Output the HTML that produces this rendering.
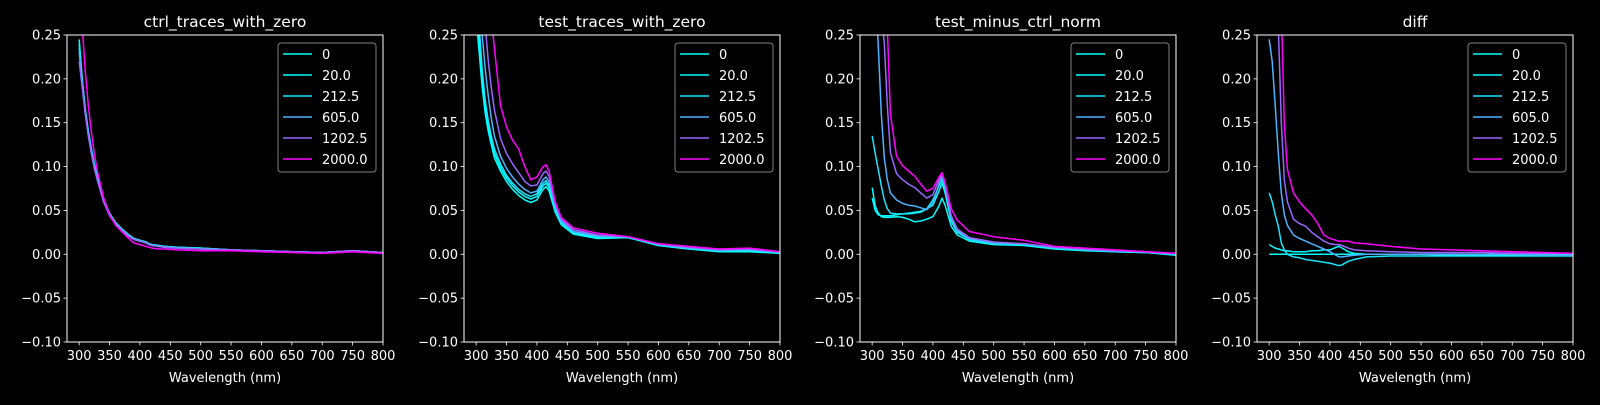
<!DOCTYPE html>
<html><head><meta charset="utf-8"><style>
html,body{margin:0;padding:0;background:#000;}
svg text{font-family:"DejaVu Sans","Liberation Sans",sans-serif;fill:#fff;}
</style></head><body>
<svg id="fig" width="1600" height="400" xmlns="http://www.w3.org/2000/svg"></svg>
<script>
const wavelengths=[300,305,310,315,320,325,330,340,350,360,370,380,390,400,410,415,420,430,440,460,500,550,600,650,700,750,800];
const seriesLabels=["0","20.0","212.5","605.0","1202.5","2000.0"];
const seriesColors=["#00ffff","#03fcff","#1be4ff","#4db2ff","#9966ff","#ff00ff"];
const panelTitles=["ctrl_traces_with_zero","test_traces_with_zero","test_minus_ctrl_norm","diff"];
const xTicks=[300,350,400,450,500,550,600,650,700,750,800];
const yTicks=[-0.10,-0.05,0.00,0.05,0.10,0.15,0.20,0.25];
const yTickLabels=["\u22120.10","\u22120.05","0.00","0.05","0.10","0.15","0.20","0.25"];
const ctrl0=[0.245,0.20,0.165,0.14,0.12,0.102,0.088,0.063,0.046,0.036,0.029,0.023,0.018,0.016,0.014,0.012,0.011,0.010,0.009,0.008,0.007,0.005,0.004,0.003,0.002,0.004,0.002];
const ctrl20=[0.24,0.20,0.166,0.141,0.121,0.103,0.089,0.064,0.047,0.036,0.029,0.023,0.018,0.016,0.014,0.012,0.011,0.010,0.009,0.008,0.007,0.005,0.004,0.003,0.002,0.004,0.002];
const ctrl212=[0.235,0.198,0.164,0.139,0.119,0.101,0.087,0.062,0.046,0.035,0.028,0.022,0.018,0.016,0.013,0.012,0.011,0.010,0.009,0.008,0.007,0.005,0.004,0.003,0.002,0.004,0.002];
const ctrl605=[0.23,0.195,0.162,0.137,0.117,0.1,0.086,0.061,0.045,0.035,0.028,0.022,0.017,0.015,0.013,0.011,0.010,0.009,0.008,0.007,0.006,0.005,0.004,0.003,0.002,0.004,0.002];
const ctrl1202=[0.22,0.19,0.16,0.135,0.115,0.098,0.084,0.06,0.044,0.034,0.027,0.021,0.017,0.015,0.013,0.011,0.01,0.009,0.008,0.007,0.006,0.005,0.004,0.003,0.002,0.004,0.002];
const ctrl2000=[0.30,0.26,0.21,0.17,0.14,0.115,0.095,0.065,0.045,0.033,0.026,0.019,0.013,0.011,0.009,0.008,0.007,0.006,0.006,0.005,0.004,0.004,0.003,0.002,0.001,0.003,0.001];
const test0=[0.27,0.23,0.19,0.16,0.14,0.125,0.11,0.095,0.083,0.074,0.067,0.062,0.059,0.062,0.074,0.077,0.072,0.048,0.034,0.023,0.018,0.019,0.010,0.006,0.003,0.003,0.001];
const test20=[0.29,0.245,0.20,0.168,0.146,0.13,0.115,0.099,0.087,0.078,0.071,0.066,0.063,0.066,0.078,0.081,0.076,0.05,0.035,0.024,0.019,0.019,0.010,0.006,0.004,0.004,0.002];
const test212=[0.31,0.26,0.21,0.175,0.152,0.135,0.12,0.103,0.09,0.081,0.074,0.069,0.066,0.069,0.081,0.084,0.079,0.052,0.036,0.025,0.02,0.02,0.011,0.007,0.004,0.005,0.002];
const test605=[0.36,0.30,0.25,0.21,0.18,0.155,0.135,0.112,0.098,0.088,0.08,0.074,0.07,0.072,0.085,0.088,0.083,0.055,0.038,0.026,0.021,0.02,0.011,0.007,0.005,0.005,0.002];
const test1202=[0.43,0.37,0.31,0.26,0.22,0.19,0.165,0.132,0.115,0.103,0.093,0.083,0.078,0.079,0.092,0.095,0.089,0.058,0.04,0.028,0.022,0.02,0.012,0.008,0.005,0.006,0.003];
const test2000=[0.5,0.44,0.37,0.31,0.29,0.27,0.235,0.17,0.145,0.13,0.12,0.1,0.085,0.088,0.1,0.102,0.095,0.06,0.042,0.03,0.024,0.02,0.012,0.009,0.006,0.007,0.003];
const norm0=[0.076,0.055,0.047,0.043,0.042,0.042,0.042,0.043,0.042,0.04,0.037,0.038,0.04,0.043,0.055,0.064,0.056,0.032,0.022,0.015,0.011,0.01,0.006,0.004,0.003,0.002,-0.001];
const norm20=[0.064,0.05,0.045,0.044,0.044,0.044,0.044,0.045,0.046,0.047,0.048,0.049,0.052,0.056,0.072,0.081,0.07,0.038,0.025,0.017,0.012,0.011,0.007,0.005,0.003,0.002,0.0];
const norm212=[0.135,0.115,0.097,0.078,0.062,0.052,0.047,0.046,0.046,0.046,0.047,0.048,0.052,0.062,0.078,0.085,0.075,0.04,0.026,0.017,0.012,0.011,0.007,0.005,0.003,0.002,0.0];
const norm605=[0.4,0.3,0.24,0.16,0.11,0.085,0.07,0.062,0.058,0.056,0.055,0.053,0.051,0.058,0.08,0.089,0.078,0.042,0.027,0.018,0.013,0.012,0.008,0.005,0.004,0.003,0.0];
const norm1202=[0.5,0.4,0.33,0.28,0.24,0.17,0.116,0.092,0.085,0.08,0.076,0.07,0.064,0.068,0.085,0.091,0.08,0.044,0.029,0.019,0.014,0.012,0.008,0.006,0.004,0.003,0.001];
const norm2000=[0.6,0.5,0.42,0.35,0.3,0.26,0.16,0.112,0.101,0.095,0.089,0.08,0.072,0.075,0.088,0.093,0.082,0.052,0.039,0.026,0.02,0.016,0.009,0.007,0.005,0.003,0.001];
const diff0=[0,0,0,0,0,0,0,0,0,0,0,0,0,0,0,0,0,0,0,0,0,0,0,0,0,0,0];
const diff20=[0.011,0.009,0.007,0.006,0.005,0.004,0.004,0.003,0.003,0.003,0.004,0.004,0.005,0.005,0.008,0.009,0.007,0.003,0.001,0.0,0.0,0.0,-0.001,-0.001,-0.001,-0.001,-0.001];
const diff212=[0.07,0.06,0.045,0.032,0.013,0.005,0.0,-0.003,-0.004,-0.006,-0.007,-0.008,-0.009,-0.01,-0.012,-0.013,-0.012,-0.008,-0.006,-0.003,-0.002,-0.002,-0.002,-0.002,-0.002,-0.002,-0.002];
const diff605=[0.245,0.22,0.17,0.115,0.07,0.045,0.033,0.022,0.018,0.015,0.012,0.009,0.006,0.003,-0.001,-0.003,-0.003,-0.002,-0.001,0.0,0.0,0.0,0.0,0.0,0.0,-0.001,-0.001];
const diff1202=[0.5,0.4,0.33,0.26,0.15,0.085,0.06,0.04,0.035,0.032,0.025,0.02,0.015,0.012,0.011,0.011,0.01,0.007,0.005,0.004,0.003,0.002,0.002,0.002,0.001,0.001,0.001];
const diff2000=[0.6,0.5,0.42,0.35,0.28,0.15,0.097,0.07,0.06,0.052,0.045,0.035,0.022,0.018,0.016,0.015,0.015,0.015,0.013,0.012,0.009,0.006,0.005,0.004,0.003,0.002,0.001];

const panels=[[ctrl0,ctrl20,ctrl212,ctrl605,ctrl1202,ctrl2000],[test0,test20,test212,test605,test1202,test2000],[norm0,norm20,norm212,norm605,norm1202,norm2000],[diff0,diff20,diff212,diff605,diff1202,diff2000]];

const NS="http://www.w3.org/2000/svg";
const svg=document.getElementById('fig');
function mk(tag,attrs,parent){const e=document.createElementNS(NS,tag);for(const k in attrs)e.setAttribute(k,attrs[k]);(parent||svg).appendChild(e);return e;}
const axLefts=[67,464,860,1257], axW=316, axTop=35, axH=307;
const xMin=280,xMax=800,yMin=-0.10,yMax=0.25;
panels.forEach((series,pi)=>{
  const L=axLefts[pi];
  const xs=v=>L+(v-xMin)/(xMax-xMin)*axW;
  const ys=v=>axTop+(yMax-v)/(yMax-yMin)*axH;
  const g=mk('g',{});
  
  
  const cp=mk('clipPath',{id:'clip'+pi},g);
  mk('rect',{x:L,y:axTop,width:axW,height:axH},cp);
  const lg=mk('g',{'clip-path':'url(#clip'+pi+')'},g);
  series.forEach((vals,si)=>{
    const d=vals.map((v,i)=>(i?'L':'M')+xs(wavelengths[i]).toFixed(1)+' '+ys(v).toFixed(1)).join(' ');
    const p=mk('path',{d:d,fill:'none',stroke:seriesColors[si],'stroke-width':1.5,'stroke-linejoin':'round'},lg);
    
    
  });
  const fr=mk('rect',{x:L,y:axTop,width:axW,height:axH,fill:'none',stroke:'#fff','stroke-width':1},g);
  
  
  xTicks.forEach(t=>{
    const x=xs(t);
    mk('line',{x1:x,x2:x,y1:axTop+axH,y2:axTop+axH+3.5,stroke:'#fff','stroke-width':0.8},g);
    const tx=mk('text',{x:x,y:axTop+axH+18,'text-anchor':'middle','font-size':13},g);
    tx.textContent=t;
    
    
  });
  yTicks.forEach((t,i)=>{
    const y=ys(t);
    mk('line',{x1:L-3.5,x2:L,y1:y,y2:y,stroke:'#fff','stroke-width':0.8},g);
    const tx=mk('text',{x:L-6,y:y+4.5,'text-anchor':'end','font-size':13},g);
    tx.textContent=yTickLabels[i];
    
    
  });
  const xl=mk('text',{x:L+axW/2,y:382,'text-anchor':'middle','font-size':13},g);
  xl.textContent='Wavelength (nm)';
  
  
  const tt=mk('text',{x:L+axW/2,y:27,'text-anchor':'middle','font-size':15.5},g);
  tt.textContent=panelTitles[pi];
  
  
  const leg=mk('g',{},g);
  
  
  mk('rect',{x:L+211,y:43,width:98,height:129,rx:3,fill:'#000',stroke:'#808080','stroke-width':1,'fill-opacity':0.8},leg);
  seriesLabels.forEach((lab,si)=>{
    const y=54+si*21;
    const le=mk('g',{},leg);
    
    
    mk('line',{x1:L+216,x2:L+245,y1:y,y2:y,stroke:seriesColors[si],'stroke-width':1.5},le);
    const t=mk('text',{x:L+255,y:y+5,'font-size':13},le);
    t.textContent=lab;
  });
});
</script>
</body></html>
